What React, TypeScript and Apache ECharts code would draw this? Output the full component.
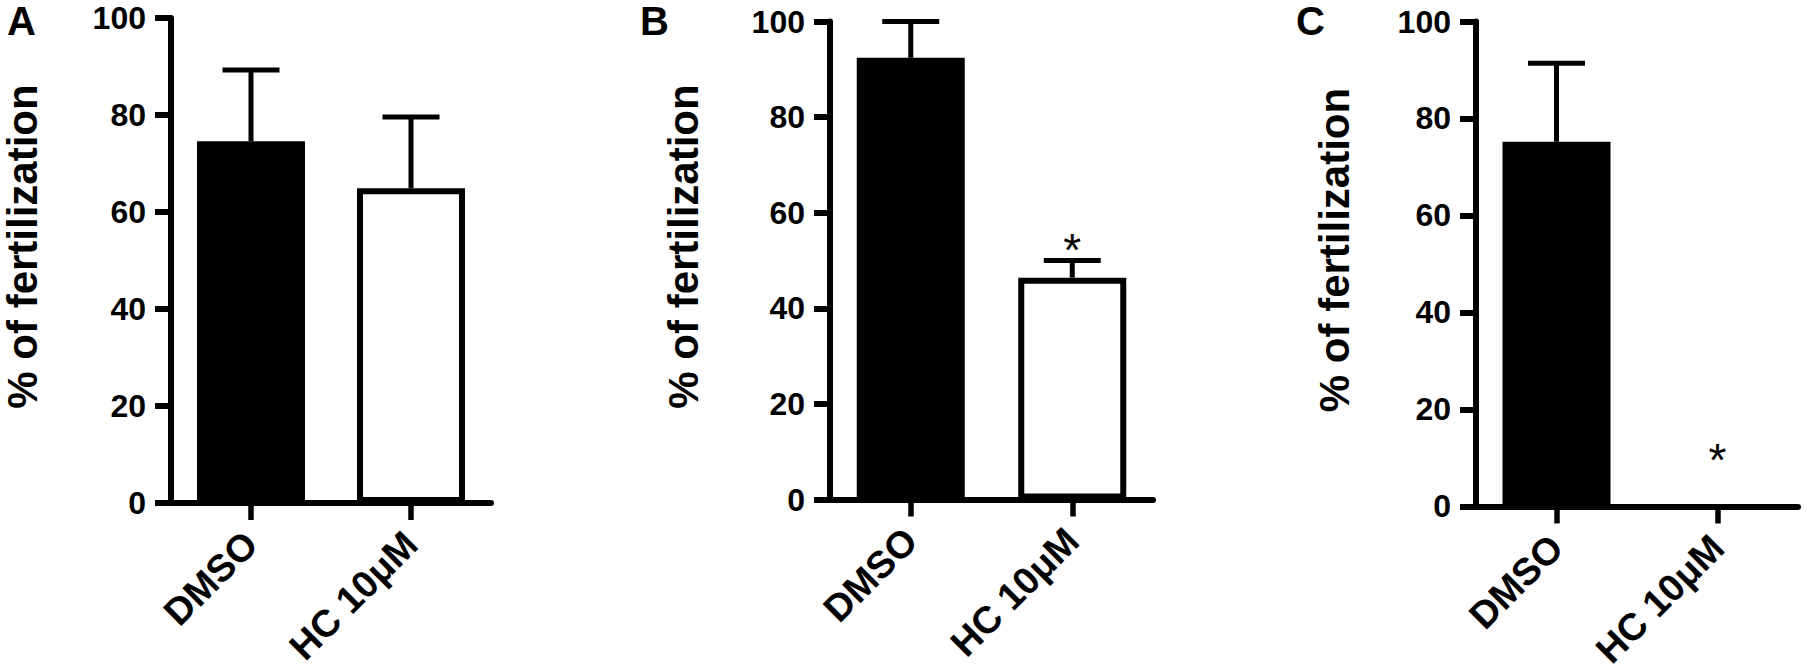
import React, { useEffect, useRef } from 'react';
import * as echarts from 'echarts';

// ---- data ----
const categories = ['DMSO', 'HC 10μM'];
const panelLetters = ['A', 'B', 'C'];
const yTitle = '% of fertilization';
const yMin = 0;
const yMax = 100;
const yInterval = 20;

const meanA = [74.6, 64.9];
const errA = [14.7, 14.7];
const meanB = [92.4, 46.4];
const errB = [7.6, 3.6];
const meanC = [75.2, 0];
const errC = [16.2, 0];

// significance asterisks: [category index, y value]
const starsA: number[][] = [];
const starsB = [[1, 54.7]];
const starsC = [[1, 12.0]];

const barFills = ['#000000', '#ffffff'];

// ---- layout / style ----
const FONT = 'Liberation Sans';
const grids = [
  { left: 168, top: 18, width: 323, height: 485, nameGap: 128, letterX: 7 },
  { left: 830, top: 21.5, width: 323, height: 478, nameGap: 126, letterX: 640 },
  { left: 1476, top: 21.5, width: 322, height: 485, nameGap: 121, letterX: 1296 },
];

const panels = [
  { mean: meanA, err: errA, stars: starsA },
  { mean: meanB, err: errB, stars: starsB },
  { mean: meanC, err: errC, stars: starsC },
];

function buildOption() {
  const grid = grids.map((g) => ({
    left: g.left,
    top: g.top,
    width: g.width,
    height: g.height,
    containLabel: false,
  }));
  const xAxis = grids.map((g, i) => ({
    type: 'category',
    gridIndex: i,
    data: categories,
    axisLine: { show: true, lineStyle: { color: '#000', width: 6 } },
    axisTick: { show: true, alignWithLabel: true, length: 17, lineStyle: { color: '#000', width: 5.5 } },
    axisLabel: {
      rotate: 45,
      margin: 35,
      color: '#000',
      fontSize: 38,
      fontWeight: 'bold',
      fontFamily: FONT,
      interval: 0,
    },
    splitLine: { show: false },
  }));
  const yAxis = grids.map((g, i) => ({
    type: 'value',
    gridIndex: i,
    min: yMin,
    max: yMax,
    interval: yInterval,
    name: yTitle,
    nameLocation: 'middle',
    nameRotate: 90,
    nameGap: g.nameGap,
    nameTextStyle: {
      color: '#000',
      fontSize: 42,
      fontWeight: 'bold',
      fontFamily: FONT,
      padding: [0, 0, 0, 28],
    },
    axisLine: { show: true, lineStyle: { color: '#000', width: 6 } },
    axisTick: { show: true, length: 16, lineStyle: { color: '#000', width: 6 } },
    axisLabel: {
      margin: 25,
      color: '#000',
      fontSize: 32,
      fontWeight: 'bold',
      fontFamily: FONT,
    },
    splitLine: { show: false },
  }));

  const series: any[] = [];
  panels.forEach((p, i) => {
    series.push({
      type: 'bar',
      xAxisIndex: i,
      yAxisIndex: i,
      barWidth: 108,
      z: 2,
      data: p.mean.map((v, k) => ({
        value: v,
        itemStyle: { color: barFills[k], borderColor: '#000', borderWidth: v > 0 ? 6 : 0 },
      })),
    });
    series.push({
      type: 'custom',
      xAxisIndex: i,
      yAxisIndex: i,
      z: 3,
      data: p.mean.map((v, k) => [k, v, p.err[k]]),
      encode: { x: 0, y: 1 },
      renderItem: (params: any, api: any) => {
        const x = api.value(0);
        const v = api.value(1);
        const e = api.value(2);
        if (!e) return null;
        const p0 = api.coord([x, v]);
        const p1 = api.coord([x, v + e]);
        const half = 28.5;
        return {
          type: 'group',
          children: [
            {
              type: 'line',
              shape: { x1: p0[0], y1: p0[1], x2: p1[0], y2: p1[1] },
              style: { stroke: '#000', lineWidth: 5 },
            },
            {
              type: 'line',
              shape: { x1: p1[0] - half, y1: p1[1], x2: p1[0] + half, y2: p1[1] },
              style: { stroke: '#000', lineWidth: 5 },
            },
          ],
        };
      },
    });
    if (p.stars.length) {
      series.push({
        type: 'custom',
        xAxisIndex: i,
        yAxisIndex: i,
        z: 3,
        data: p.stars,
        encode: { x: 0, y: 1 },
        renderItem: (params: any, api: any) => {
          const pt = api.coord([api.value(0), api.value(1)]);
          return {
            type: 'text',
            x: pt[0],
            y: pt[1] + 12,
            style: {
              text: '*',
              fill: '#000',
              fontSize: 46,
              fontFamily: FONT,
              fontWeight: 'normal',
              align: 'center',
              verticalAlign: 'middle',
            },
          };
        },
      });
    }
  });

  const graphic = grids.map((g, i) => ({
    type: 'text',
    x: g.letterX,
    y: 21,
    style: {
      text: panelLetters[i],
      fill: '#000',
      fontSize: 40,
      fontWeight: 'bold',
      fontFamily: FONT,
      align: 'left',
      verticalAlign: 'middle',
    },
  }));

  return {
    animation: false,
    backgroundColor: '#ffffff',
    grid,
    xAxis,
    yAxis,
    series,
    graphic,
  };
}

export default function App() {
  const ref = useRef<HTMLDivElement>(null);
  useEffect(() => {
    if (!ref.current) return;
    const chart = echarts.init(ref.current, undefined, { renderer: 'svg' });
    chart.setOption(buildOption() as any);
    return () => chart.dispose();
  }, []);
  return (
    <div
      ref={ref}
      style={{ position: 'absolute', left: 0, top: 0, width: 1807, height: 672, background: '#fff' }}
    />
  );
}
